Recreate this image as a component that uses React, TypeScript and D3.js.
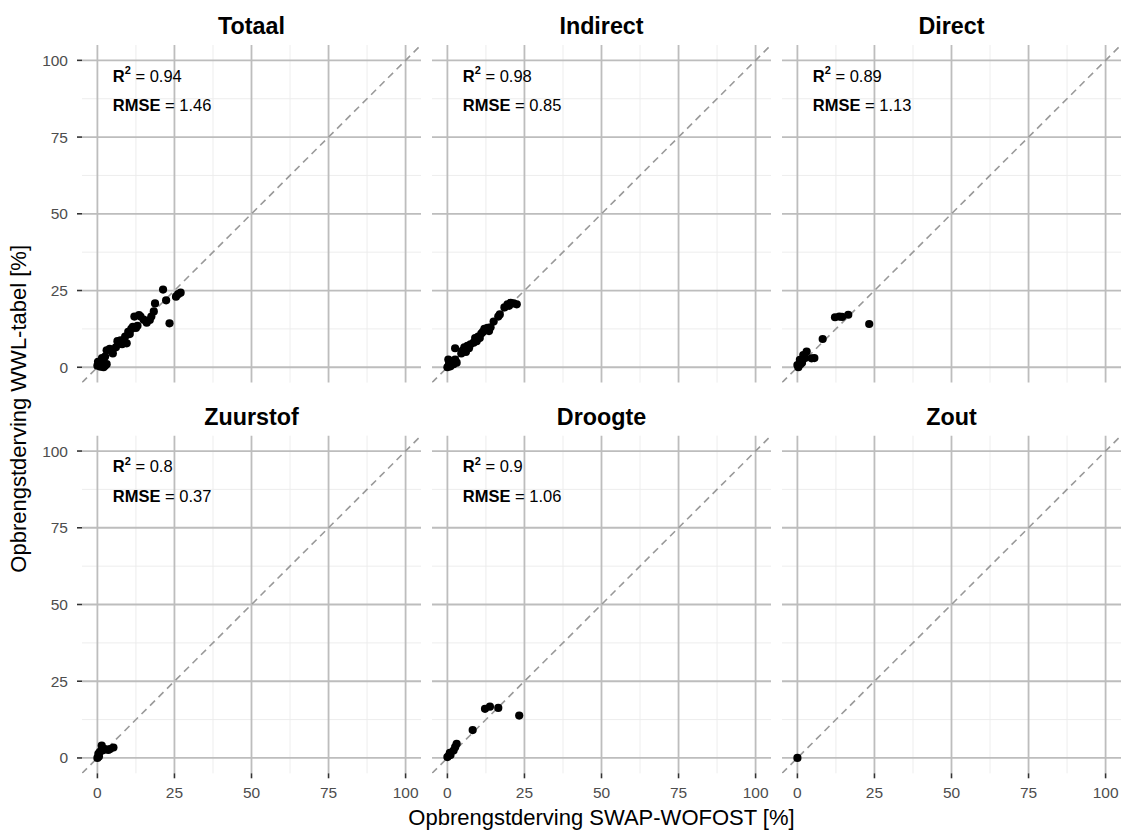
import React from "react";
import * as d3 from "d3";

const panelNames = ["Totaal", "Indirect", "Direct", "Zuurstof", "Droogte", "Zout"];

const totaal: [number, number][] = [
  [0, 0.5], [0.5, 1.5], [1, 0.2], [1.5, 1], [2, 0], [2.5, 0.5], [0.2, 1.8], [3, 1], [2.5, 3.5],
  [3, 5.5], [4.5, 5.5], [5, 4.5], [4, 6], [6, 6.5], [6.5, 8.5], [7.5, 8.8], [8, 7.5], [9, 8],
  [9.5, 7.8], [9, 10], [10, 11.5], [10.5, 10.8], [11, 12.5], [11.5, 13.2], [12.5, 12.8], [13, 13.5],
  [12, 16.5], [13.5, 17], [14, 16.5], [15, 15.5], [16, 14.5], [17, 15.4], [17.5, 16.5], [18.3, 18.2],
  [18.7, 20.8], [21.3, 25.3], [22.3, 21.8], [23.4, 14.3], [25.5, 23], [26.2, 23.8], [27, 24.3],
  [2, 2.5], [1.5, 3],
];

const indirect: [number, number][] = [
  [0, 0], [0.5, 1], [1, 0.3], [1.5, 2], [2, 1], [2.5, 2.5], [3, 1.5], [0.3, 2.5], [2.5, 6.2],
  [4.5, 4.5], [5, 5.5], [5.5, 6.5], [6, 5], [6.5, 7], [7, 6.2], [7.5, 7.5], [8.5, 8], [9, 9.5],
  [9.5, 8.5], [10, 10], [10.5, 9.5], [11, 11], [11.5, 11.5], [12, 12.5], [13, 12.8], [14, 13],
  [13.5, 11.8], [15, 14.9], [16.5, 16.5], [17, 17.2], [18.5, 19.5], [19.5, 20.5], [20.5, 21],
  [21.5, 20.8], [22.5, 20.5], [20, 20],
];

const direct: [number, number][] = [
  [0, 0.7], [0.3, 0], [0.8, 2.4], [1.5, 1.5], [1.9, 4], [2.5, 3], [3, 5.1], [4.6, 2.9], [5.5, 3],
  [8.2, 9.2], [12.2, 16.3], [13.6, 16.5], [14.5, 16.4], [16.5, 17.1], [23.3, 14.1], [1, 1],
];

const zuurstof: [number, number][] = [
  [0, 0], [0.3, 1.3], [0.8, 2], [1.4, 4], [2.5, 2.9], [3.5, 2.6], [4.1, 2.9], [5.2, 3.4], [1.8, 2.5], [0.5, 0.5],
];

const droogte: [number, number][] = [
  [0, 0.3], [0.5, 0.8], [1, 1], [0.8, 1.7], [2, 2.4], [3, 4.6], [2.5, 3.5], [8.2, 9.1],
  [12.2, 16], [13.8, 16.7], [16.5, 16.3], [23.3, 13.8],
];

const zout: [number, number][] = [[0, 0]];

const panelData = [totaal, indirect, direct, zuurstof, droogte, zout];
const r2Labels = ["0.94", "0.98", "0.89", "0.8", "0.9", ""];
const rmseLabels = ["1.46", "0.85", "1.13", "0.37", "1.06", ""];

const majorTicks = [0, 25, 50, 75, 100];
const minorTicks = [12.5, 37.5, 62.5, 87.5];

const FONT = "'Liberation Sans', Arial, sans-serif";

export default function App() {
  const W = 1121, H = 831;
  const panelW = 339, gapX = 11, left0 = 82;
  const panelH = 337.6;
  const rowTops = [45, 435.7];

  const x = d3.scaleLinear().domain([-5, 105]).range([0, panelW]);
  const y = d3.scaleLinear().domain([-5, 105]).range([panelH, 0]);

  return (
    <div style={{ position: "absolute", left: 0, top: 0 }}>
      <svg width={W} height={H} style={{ display: "block", background: "#fff" }} fontFamily={FONT}>
        {panelNames.map((name, i) => {
          const col = i % 3, row = Math.floor(i / 3);
          const px = left0 + col * (panelW + gapX);
          const py = rowTops[row];
          const pts = panelData[i];
          return (
            <g key={name} transform={`translate(${px},${py})`}>
              <defs>
                <clipPath id={`clip${i}`}>
                  <rect x={0} y={0} width={panelW} height={panelH} />
                </clipPath>
              </defs>
              {minorTicks.map((t) => (
                <g key={"m" + t}>
                  <line x1={x(t)} x2={x(t)} y1={0} y2={panelH} stroke="#ebebeb" strokeWidth={0.9} />
                  <line x1={0} x2={panelW} y1={y(t)} y2={y(t)} stroke="#ebebeb" strokeWidth={0.9} />
                </g>
              ))}
              {majorTicks.map((t) => (
                <g key={"M" + t}>
                  <line x1={x(t)} x2={x(t)} y1={0} y2={panelH} stroke="#bdbdbd" strokeWidth={1.8} />
                  <line x1={0} x2={panelW} y1={y(t)} y2={y(t)} stroke="#bdbdbd" strokeWidth={1.8} />
                </g>
              ))}
              <line
                x1={x(-5)} y1={y(-5)} x2={x(105)} y2={y(105)}
                stroke="#999999" strokeWidth={1.6} strokeDasharray="7,5"
                clipPath={`url(#clip${i})`}
              />
              {pts.map((p, k) => (
                <circle key={k} cx={x(p[0])} cy={y(p[1])} r={4.1} fill="#000" />
              ))}
              {r2Labels[i] !== "" && (
                <g fontSize={16.5} fill="#000">
                  <text x={x(5)} y={y(95) + 6}>
                    <tspan fontWeight="bold">R</tspan>
                    <tspan fontWeight="bold" fontSize={11} dy={-7.7}>2</tspan>
                    <tspan dy={7.7}>{" = " + r2Labels[i]}</tspan>
                  </text>
                  <text x={x(5)} y={y(85.5) + 6}>
                    <tspan fontWeight="bold">RMSE</tspan>
                    <tspan>{" = " + rmseLabels[i]}</tspan>
                  </text>
                </g>
              )}
              <text x={panelW / 2} y={-11} textAnchor="middle" fontSize={23.3} fontWeight="bold" fill="#000">
                {name}
              </text>
              {col === 0 &&
                majorTicks.map((t) => (
                  <g key={"yt" + t}>
                    <line x1={-5} x2={0} y1={y(t)} y2={y(t)} stroke="#333" strokeWidth={1.6} />
                    <text x={-14} y={y(t) + 5.5} textAnchor="end" fontSize={15.5} fill="#4d4d4d">
                      {t}
                    </text>
                  </g>
                ))}
              {row === 1 &&
                majorTicks.map((t) => (
                  <g key={"xt" + t}>
                    <line x1={x(t)} x2={x(t)} y1={panelH} y2={panelH + 5} stroke="#333" strokeWidth={1.6} />
                    <text x={x(t)} y={panelH + 25} textAnchor="middle" fontSize={15.5} fill="#4d4d4d">
                      {t}
                    </text>
                  </g>
                ))}
            </g>
          );
        })}
        <text x={(left0 + W) / 2} y={825} textAnchor="middle" fontSize={22} fill="#000">
          Opbrengstderving SWAP-WOFOST [%]
        </text>
        <text
          transform={`translate(26,${(45 + 772.6) / 2}) rotate(-90)`}
          textAnchor="middle" fontSize={22} fill="#000"
        >
          Opbrengstderving WWL-tabel [%]
        </text>
      </svg>
    </div>
  );
}
